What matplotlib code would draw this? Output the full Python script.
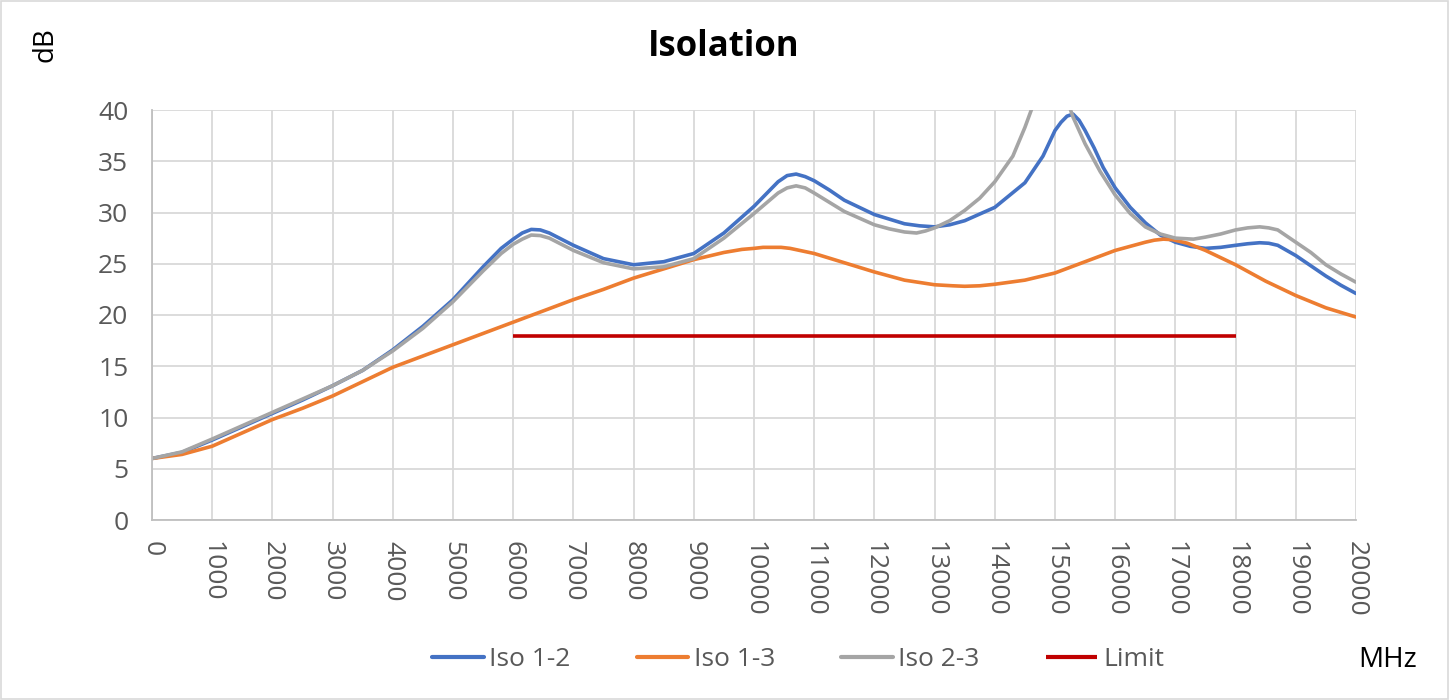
import matplotlib
matplotlib.use("Agg")
import matplotlib.pyplot as plt
from matplotlib.patches import Rectangle

plt.rcParams['font.family'] = ['Open Sans', 'DejaVu Sans']

# ---- data (MHz, dB) ----
f12 = [0, 500, 1000, 1500, 2000, 2500, 3000, 3500, 4000, 4500, 5000, 5500, 5800, 6000, 6150,
       6300, 6450, 6600, 6800, 7000, 7500, 8000, 8500, 9000, 9500, 10000, 10200, 10400, 10550,
       10700, 10850, 11000, 11250, 11500, 12000, 12500, 12750, 13000, 13250, 13500, 14000,
       14500, 14800, 15000, 15100, 15200, 15300, 15400, 15500, 15650, 15800, 16000, 16250,
       16500, 16750, 17000, 17250, 17500, 17750, 18000, 18200, 18400, 18550, 18700, 19000,
       19250, 19500, 19750, 20000]
iso12 = [6.0, 6.6, 7.8, 9.1, 10.4, 11.7, 13.1, 14.6, 16.6, 18.9, 21.5, 24.7, 26.5, 27.4, 28.0,
         28.35, 28.3, 28.0, 27.4, 26.8, 25.5, 24.9, 25.2, 26.0, 28.0, 30.6, 31.8, 33.0, 33.6,
         33.75, 33.5, 33.1, 32.2, 31.2, 29.8, 28.9, 28.7, 28.6, 28.8, 29.2, 30.5,
         32.9, 35.5, 38.0, 38.8, 39.4, 39.6, 39.0, 38.0, 36.3, 34.4, 32.4, 30.5,
         29.0, 27.8, 27.1, 26.7, 26.5, 26.6, 26.8, 26.95, 27.05, 27.0, 26.8, 25.8,
         24.8, 23.8, 22.9, 22.1]

f13 = [0, 500, 1000, 1500, 2000, 2500, 3000, 3500, 4000, 4500, 5000, 5500, 6000, 6500, 7000,
       7500, 8000, 8500, 9000, 9500, 9800, 10000, 10150, 10300, 10450, 10600, 11000, 11500,
       12000, 12500, 13000, 13300, 13500, 13750, 14000, 14500, 15000, 15500, 16000, 16500,
       16650, 16800, 16950, 17200, 17500, 18000, 18500, 19000, 19500, 20000]
iso13 = [6.0, 6.4, 7.2, 8.5, 9.8, 10.9, 12.1, 13.5, 14.9, 16.0, 17.1, 18.2, 19.3, 20.4, 21.5,
         22.5, 23.6, 24.5, 25.4, 26.1, 26.4, 26.5, 26.6, 26.6, 26.6, 26.5, 26.0, 25.1,
         24.2, 23.4, 22.95, 22.85, 22.8, 22.85, 23.0, 23.4, 24.1, 25.2, 26.3, 27.1,
         27.3, 27.4, 27.35, 27.0, 26.3, 24.9, 23.3, 21.9, 20.7, 19.8]

f23 = [0, 500, 1000, 1500, 2000, 2500, 3000, 3500, 4000, 4500, 5000, 5500, 5800, 6000, 6150,
       6300, 6450, 6600, 6800, 7000, 7500, 8000, 8500, 9000, 9500, 10000, 10200, 10400,
       10550, 10700, 10850, 11000, 11250, 11500, 12000, 12250, 12500, 12700, 12850, 13000,
       13250, 13500, 13750, 14000, 14300, 14500, 14700, 15000, 15200, 15300, 15500, 15750,
       16000, 16250, 16500, 16750, 17000, 17300, 17500, 17750, 18000, 18200, 18400, 18550,
       18700, 19000, 19250, 19500, 19750, 20000]
iso23 = [6.0, 6.65, 7.9, 9.2, 10.5, 11.8, 13.1, 14.6, 16.5, 18.7, 21.3, 24.3, 26.0, 26.9, 27.4,
         27.8, 27.75, 27.5, 26.9, 26.3, 25.1, 24.5, 24.7, 25.5, 27.5, 29.9, 30.9, 31.9,
         32.4, 32.6, 32.4, 31.9, 31.0, 30.1, 28.8, 28.4, 28.1, 28.0, 28.2, 28.5,
         29.2, 30.2, 31.4, 33.0, 35.5, 38.3, 41.5, 46.0, 41.0, 39.3, 36.7, 34.0,
         31.7, 29.9, 28.6, 27.9, 27.5, 27.4, 27.6, 27.9, 28.3, 28.5, 28.6, 28.5,
         28.3, 27.1, 26.1, 24.9, 24.0, 23.2]

f_lim = [6000, 18000]
lim = [18, 18]

xticks = list(range(0, 20001, 1000))
yticks = list(range(0, 41, 5))

# ---- figure ----
fig = plt.figure(figsize=(14.49, 7.0), dpi=100)
ax = fig.add_axes([152/1449, 1-520/700, (1356-152)/1449, (520-110)/700])

c_blue, c_orange, c_gray, c_red = '#4472C4', '#ED7D31', '#A5A5A5', '#C00000'
lw = 2.6
kw = dict(lw=lw, solid_capstyle='round', solid_joinstyle='round')
ax.plot(f12, iso12, color=c_blue, label='Iso 1-2', **kw)
ax.plot(f13, iso13, color=c_orange, label='Iso 1-3', **kw)
ax.plot(f23, iso23, color=c_gray, label='Iso 2-3', **kw)
ax.plot(f_lim, lim, color=c_red, lw=lw, label='Limit', solid_capstyle='butt')

ax.set_xlim(0, 20000)
ax.set_ylim(0, 40)
ax.set_xticks(xticks)
ax.set_xticklabels([str(t) for t in xticks], rotation=270)
ax.set_yticks(yticks)
ax.grid(True, color='#D9D9D9', lw=1.3)
ax.set_axisbelow(True)
for s in ['top', 'right']:
    ax.spines[s].set_visible(False)
for s in ['left', 'bottom']:
    ax.spines[s].set_color('#BFBFBF')
    ax.spines[s].set_linewidth(1.3)
ax.tick_params(axis='both', length=0, labelsize=19, colors='#595959')
ax.tick_params(axis='y', pad=17)
ax.tick_params(axis='x', pad=15)

fig.text(724/1449, 1-47/700, 'Isolation', ha='center', va='center',
         fontsize=25, fontweight='bold', color='black')
fig.text(45/1449, 1-45/700, 'dB', ha='center', va='center', rotation=90,
         fontsize=20, color='black')
fig.text(1388/1449, 1-660/700, 'MHz', ha='center', va='center',
         fontsize=20, color='black')

leg = fig.legend(loc='center', bbox_to_anchor=(798/1449, 1-660/700), ncol=4,
                 frameon=False, fontsize=19, handlelength=1.95, handletextpad=0.22,
                 columnspacing=2.5, borderpad=0)
for line in leg.get_lines():
    line.set_linewidth(3.0)
for t in leg.get_texts():
    t.set_color('#595959')

fig.patches.append(Rectangle((1/1449, 1/700), 1-2/1449, 1-2/700, transform=fig.transFigure,
                             fill=False, edgecolor='#D9D9D9', lw=1.2))

fig.savefig('out.png', dpi=100)
